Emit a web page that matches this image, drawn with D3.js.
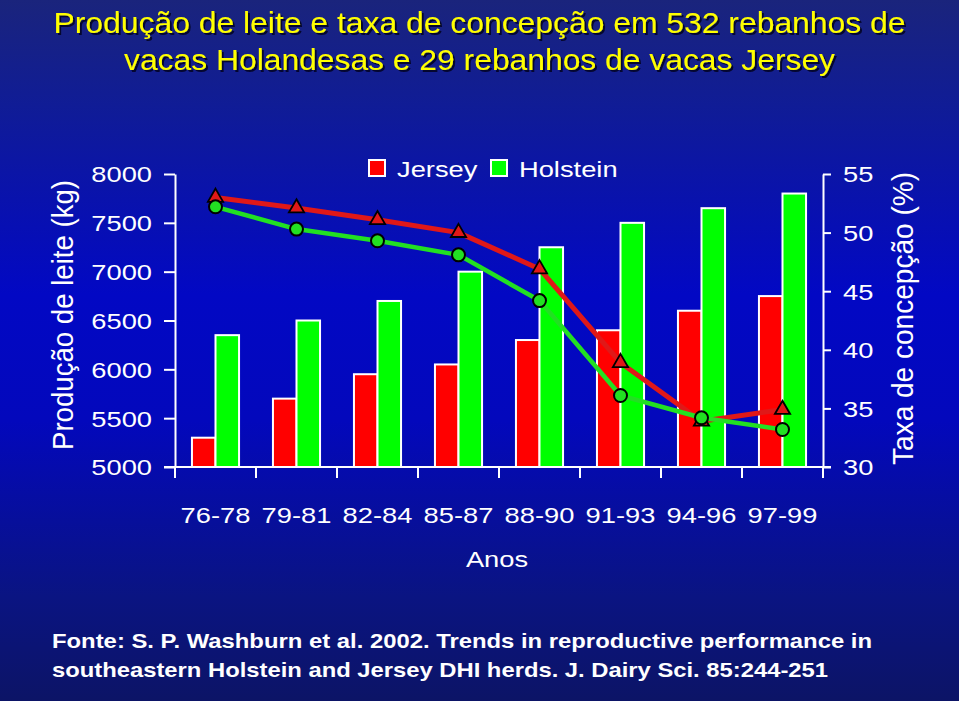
<!DOCTYPE html>
<html>
<head>
<meta charset="utf-8">
<script src="https://cdn.jsdelivr.net/npm/d3@7"></script>
<style>
html,body{margin:0;padding:0;background:#0a1470;}
svg{display:block;}
text{font-family:"Liberation Sans",Arial,sans-serif;}
</style>
</head>
<body>
<svg id="chart" width="959" height="701"></svg>
<script>
const categories = ["76-78","79-81","82-84","85-87","88-90","91-93","94-96","97-99"];
const jerseyMilk = [5300,5700,5950,6050,6300,6400,6600,6750];
const holsteinMilk = [6350,6500,6700,7000,7250,7500,7650,7800];
const jerseyConception = [53.0,52.1,51.1,50.0,46.9,38.9,33.9,34.9];
const holsteinConception = [52.2,50.3,49.3,48.1,44.2,36.1,34.2,33.2];
const milkTicks = [5000,5500,6000,6500,7000,7500,8000];
const conceptionTicks = [30,35,40,45,50,55];
const seriesNames = ["Jersey","Holstein"];
const titleLines = ["Produção de leite e taxa de concepção em 532 rebanhos de","vacas Holandesas e 29 rebanhos de vacas Jersey"];
const sourceLines = ["Fonte: S. P. Washburn et al. 2002. Trends in reproductive performance in","southeastern Holstein and Jersey DHI herds. J. Dairy Sci. 85:244-251"];

(function(){
const W = 959, H = 701;
const pLeft = 175, pRight = 823, pTop = 174, pBottom = 467;
const STRETCH = 1.24;
const colors = {Jersey:"#ff0000", Holstein:"#00ff00"};
const lineColors = {Jersey:"#e01818", Holstein:"#22e022"};

const svg = d3.select("#chart");
const defs = svg.append("defs");
const grad = defs.append("linearGradient").attr("id","bg").attr("x1",0).attr("y1",0).attr("x2",0).attr("y2",1);
[[0,"#1a247c"],[0.15,"#101c96"],[0.42,"#0208c4"],[0.6,"#0308bc"],[0.85,"#0a1482"],[1,"#0c1466"]]
  .forEach(([o,c])=>grad.append("stop").attr("offset",o).attr("stop-color",c));
const shadow = defs.append("filter").attr("id","shadow").attr("x","-5%").attr("y","-30%").attr("width","110%").attr("height","160%");
shadow.append("feDropShadow").attr("dx",2).attr("dy",2).attr("stdDeviation",0.6)
  .attr("flood-color","#000018").attr("flood-opacity",0.8);
svg.append("rect").attr("width",W).attr("height",H).attr("fill","url(#bg)");

function stretch(sel){
  sel.each(function(){
    const len = this.getComputedTextLength();
    d3.select(this).attr("textLength", len*STRETCH).attr("lengthAdjust","spacingAndGlyphs");
  });
}

// Title
const titleG = svg.append("g").attr("filter","url(#shadow)");
const titleSpec = [{t:titleLines[0], y:33, len:852},{t:titleLines[1], y:70, len:711}];
titleSpec.forEach(s=>{
  titleG.append("text").attr("x",479.5).attr("y",s.y).attr("text-anchor","middle")
    .attr("font-size",30).attr("fill","#ffff00")
    .attr("textLength",s.len).attr("lengthAdjust","spacingAndGlyphs").text(s.t);
});

// Scales
const x = d3.scaleBand().domain(categories).range([pLeft,pRight]).paddingInner(0).paddingOuter(0);
const xSub = d3.scaleBand().domain(seriesNames).range([0,x.bandwidth()]).paddingInner(0).paddingOuter(0.72);
const yL = d3.scaleLinear().domain([5000,8000]).range([pBottom,pTop]);
const yR = d3.scaleLinear().domain([30,55]).range([pBottom,pTop]);

// Bars
const barData = categories.map((c,i)=>({cat:c, vals:[{s:"Jersey",v:jerseyMilk[i]},{s:"Holstein",v:holsteinMilk[i]}]}));
const barG = svg.append("g");
barG.selectAll("g").data(barData).join("g")
  .attr("transform",d=>`translate(${x(d.cat)},0)`)
  .selectAll("rect").data(d=>d.vals).join("rect")
  .attr("x",d=>xSub(d.s)).attr("width",xSub.bandwidth())
  .attr("y",d=>yL(d.v)).attr("height",d=>yL(5000)-yL(d.v))
  .attr("fill",d=>colors[d.s]).attr("stroke","#ffffff").attr("stroke-width",2);

// Axes
const axisStyle = g=>{
  g.selectAll("path,line").attr("stroke","#ffffff").attr("stroke-width",2);
  g.selectAll("text").attr("fill","#ffffff").attr("font-size",22).attr("font-family",'"Liberation Sans",Arial,sans-serif');
};
const gl = svg.append("g").attr("transform",`translate(${pLeft},0)`)
  .call(d3.axisLeft(yL).tickValues(milkTicks).tickFormat(d3.format("d")).tickSize(11).tickSizeOuter(0).tickPadding(12));
axisStyle(gl); gl.selectAll("text").attr("dy","0.36em"); stretch(gl.selectAll("text"));

const gr = svg.append("g").attr("transform",`translate(${pRight},0)`)
  .call(d3.axisRight(yR).tickValues(conceptionTicks).tickFormat(d3.format("d")).tickSize(8).tickSizeOuter(0).tickPadding(12));
axisStyle(gr); gr.selectAll("text").attr("dy","0.36em"); stretch(gr.selectAll("text"));

// x axis baseline with boundary ticks
const gx = svg.append("g");
gx.append("line").attr("x1",pLeft-11).attr("x2",pRight+8).attr("y1",pBottom).attr("y2",pBottom)
  .attr("stroke","#fff").attr("stroke-width",2);
const bounds = categories.map(c=>x(c)).concat([pRight]);
gx.selectAll("line.tk").data(bounds).join("line").attr("class","tk")
  .attr("x1",d=>d).attr("x2",d=>d).attr("y1",pBottom).attr("y2",pBottom+11)
  .attr("stroke","#fff").attr("stroke-width",2);
const gxl = svg.append("g").attr("transform",`translate(0,${pBottom})`)
  .call(d3.axisBottom(x).tickSize(0).tickPadding(40));
gxl.select("path").remove();
gxl.selectAll("text").attr("fill","#fff").attr("font-size",22).attr("font-family",'"Liberation Sans",Arial,sans-serif');
stretch(gxl.selectAll("text"));

// Axis titles
svg.append("text").attr("x",497).attr("y",567).attr("text-anchor","middle")
  .attr("font-size",22).attr("fill","#fff").text("Anos").call(stretch);

svg.append("text").attr("transform",`translate(73,${(175+455)/2}) scale(1.2,1) rotate(-90)`)
  .attr("text-anchor","middle").attr("font-size",25).attr("fill","#fff")
  .attr("textLength",270).attr("lengthAdjust","spacingAndGlyphs")
  .text("Produção de leite (kg)");
svg.append("text").attr("transform",`translate(913,${(172+465)/2}) scale(1.2,1) rotate(-90)`)
  .attr("text-anchor","middle").attr("font-size",25).attr("fill","#fff")
  .attr("textLength",293).attr("lengthAdjust","spacingAndGlyphs")
  .text("Taxa de concepção (%)");

// Lines
const cx = c=>x(c)+x.bandwidth()/2;
const jPts = categories.map((c,i)=>[cx(c), yR(jerseyConception[i])]);
const hPts = categories.map((c,i)=>[cx(c), yR(holsteinConception[i])]);
const line = d3.line();
svg.append("path").attr("d",line(jPts)).attr("fill","none").attr("stroke",lineColors.Jersey).attr("stroke-width",5).attr("stroke-linejoin","round");
svg.append("g").selectAll("path").data(jPts).join("path")
  .attr("transform",d=>`translate(${d[0]},${d[1]})`)
  .attr("d",d3.symbol(d3.symbolTriangle,100)())
  .attr("fill",lineColors.Jersey).attr("stroke","#000").attr("stroke-width",1.8);
svg.append("path").attr("d",line(hPts)).attr("fill","none").attr("stroke",lineColors.Holstein).attr("stroke-width",4.5).attr("stroke-linejoin","round");
svg.append("g").selectAll("circle").data(hPts).join("circle")
  .attr("cx",d=>d[0]).attr("cy",d=>d[1]).attr("r",6.5)
  .attr("fill",lineColors.Holstein).attr("stroke","#000").attr("stroke-width",2);

// Legend
const legend = svg.append("g");
const legSpec = [{s:"Jersey", rx:369, tx:397},{s:"Holstein", rx:491, tx:519}];
legSpec.forEach(l=>{
  legend.append("rect").attr("x",l.rx).attr("y",160).attr("width",16).attr("height",16)
    .attr("fill",colors[l.s]).attr("stroke","#fff").attr("stroke-width",2);
  legend.append("text").attr("x",l.tx).attr("y",177).attr("font-size",22).attr("fill","#fff").text(l.s).call(stretch);
});

// Source
const srcSpec = [{t:sourceLines[0], y:648, len:820},{t:sourceLines[1], y:677, len:776}];
srcSpec.forEach(s=>{
  svg.append("text").attr("x",52).attr("y",s.y).attr("font-size",21).attr("font-weight","bold")
    .attr("fill","#fff").attr("textLength",s.len).attr("lengthAdjust","spacingAndGlyphs").text(s.t);
});
})();
</script>
</body>
</html>
